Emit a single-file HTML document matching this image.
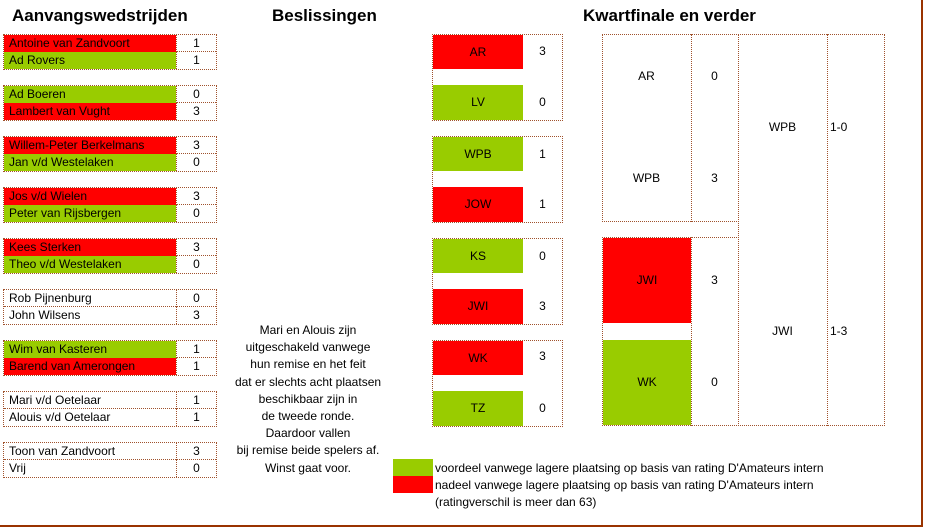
<!DOCTYPE html>
<html><head><meta charset="utf-8"><style>
body{margin:0;width:925px;height:529px;background:#fff;font-family:"Liberation Sans",Arial,sans-serif;font-size:12px;color:#000;position:relative;overflow:hidden}
div{position:absolute;box-sizing:border-box}
.b{border:1px dotted #a0522d}
.r{background:#ff0000}.g{background:#99cc00}
.n{height:17px;line-height:17px;padding-left:5px;white-space:nowrap}
.s{height:17px;line-height:17px;text-align:center;border-left:1px dotted #a0522d}
.t{border-bottom:1px dotted #a0522d}
.h{font-weight:bold;font-size:17px;top:6px;white-space:nowrap}
.c{text-align:center}
</style></head><body>
<div class="h" style="left:12px">Aanvangswedstrijden</div>
<div class="h" style="left:272px">Beslissingen</div>
<div class="h" style="left:583px">Kwartfinale en verder</div>

<div class="b" style="left:3px;top:34px;width:214px;height:36px"></div>
<div class="n r" style="left:4px;top:35px;width:172px">Antoine van Zandvoort</div><div class="s t" style="left:176px;top:35px;width:40px">1</div>
<div class="n g" style="left:4px;top:52px;width:172px">Ad Rovers</div><div class="s" style="left:176px;top:52px;width:40px">1</div>

<div class="b" style="left:3px;top:85px;width:214px;height:36px"></div>
<div class="n g" style="left:4px;top:86px;width:172px">Ad Boeren</div><div class="s t" style="left:176px;top:86px;width:40px">0</div>
<div class="n r" style="left:4px;top:103px;width:172px">Lambert van Vught</div><div class="s" style="left:176px;top:103px;width:40px">3</div>

<div class="b" style="left:3px;top:136px;width:214px;height:36px"></div>
<div class="n r" style="left:4px;top:137px;width:172px">Willem-Peter Berkelmans</div><div class="s t" style="left:176px;top:137px;width:40px">3</div>
<div class="n g" style="left:4px;top:154px;width:172px">Jan v/d Westelaken</div><div class="s" style="left:176px;top:154px;width:40px">0</div>

<div class="b" style="left:3px;top:187px;width:214px;height:36px"></div>
<div class="n r" style="left:4px;top:188px;width:172px">Jos v/d Wielen</div><div class="s t" style="left:176px;top:188px;width:40px">3</div>
<div class="n g" style="left:4px;top:205px;width:172px">Peter van Rijsbergen</div><div class="s" style="left:176px;top:205px;width:40px">0</div>

<div class="b" style="left:3px;top:238px;width:214px;height:36px"></div>
<div class="n r" style="left:4px;top:239px;width:172px">Kees Sterken</div><div class="s t" style="left:176px;top:239px;width:40px">3</div>
<div class="n g" style="left:4px;top:256px;width:172px">Theo v/d Westelaken</div><div class="s" style="left:176px;top:256px;width:40px">0</div>

<div class="b" style="left:3px;top:289px;width:214px;height:36px"></div>
<div class="n t" style="left:4px;top:290px;width:172px">Rob Pijnenburg</div><div class="s t" style="left:176px;top:290px;width:40px">0</div>
<div class="n" style="left:4px;top:307px;width:172px">John Wilsens</div><div class="s" style="left:176px;top:307px;width:40px">3</div>

<div class="b" style="left:3px;top:340px;width:214px;height:36px"></div>
<div class="n g" style="left:4px;top:341px;width:172px">Wim van Kasteren</div><div class="s t" style="left:176px;top:341px;width:40px">1</div>
<div class="n r" style="left:4px;top:358px;width:172px">Barend van Amerongen</div><div class="s" style="left:176px;top:358px;width:40px">1</div>

<div class="b" style="left:3px;top:391px;width:214px;height:36px"></div>
<div class="n t" style="left:4px;top:392px;width:172px">Mari v/d Oetelaar</div><div class="s t" style="left:176px;top:392px;width:40px">1</div>
<div class="n" style="left:4px;top:409px;width:172px">Alouis v/d Oetelaar</div><div class="s" style="left:176px;top:409px;width:40px">1</div>

<div class="b" style="left:3px;top:442px;width:214px;height:36px"></div>
<div class="n t" style="left:4px;top:443px;width:172px">Toon van Zandvoort</div><div class="s t" style="left:176px;top:443px;width:40px">3</div>
<div class="n" style="left:4px;top:460px;width:172px">Vrij</div><div class="s" style="left:176px;top:460px;width:40px">0</div>

<!-- Beslissingen -->
<div class="b" style="left:432px;top:34px;width:131px;height:87px"></div>
<div class="r c" style="left:433px;top:35px;width:90px;height:34px;line-height:34px">AR</div><div class="c" style="left:523px;top:35px;width:39px;line-height:32px">3</div>
<div class="g c" style="left:433px;top:85px;width:90px;height:35px;line-height:35px">LV</div><div class="c" style="left:523px;top:85px;width:39px;line-height:35px">0</div>

<div class="b" style="left:432px;top:136px;width:131px;height:87px"></div>
<div class="g c" style="left:433px;top:137px;width:90px;height:34px;line-height:34px">WPB</div><div class="c" style="left:523px;top:137px;width:39px;line-height:34px">1</div>
<div class="r c" style="left:433px;top:187px;width:90px;height:35px;line-height:35px">JOW</div><div class="c" style="left:523px;top:187px;width:39px;line-height:35px">1</div>

<div class="b" style="left:432px;top:238px;width:131px;height:87px"></div>
<div class="g c" style="left:433px;top:239px;width:90px;height:34px;line-height:34px">KS</div><div class="c" style="left:523px;top:239px;width:39px;line-height:34px">0</div>
<div class="r c" style="left:433px;top:289px;width:90px;height:35px;line-height:35px">JWI</div><div class="c" style="left:523px;top:289px;width:39px;line-height:35px">3</div>

<div class="b" style="left:432px;top:340px;width:131px;height:87px"></div>
<div class="r c" style="left:433px;top:341px;width:90px;height:34px;line-height:34px">WK</div><div class="c" style="left:523px;top:341px;width:39px;line-height:30px">3</div>
<div class="g c" style="left:433px;top:391px;width:90px;height:35px;line-height:35px">TZ</div><div class="c" style="left:523px;top:391px;width:39px;line-height:35px">0</div>

<!-- Kwartfinale -->
<div class="b" style="left:602px;top:34px;width:137px;height:188px"></div>
<div style="left:691px;top:34px;height:188px;border-left:1px dotted #a0522d"></div>
<div class="c" style="left:602px;top:69px;width:89px">AR</div><div class="c" style="left:691px;top:69px;width:47px">0</div>
<div class="c" style="left:602px;top:171px;width:89px">WPB</div><div class="c" style="left:691px;top:171px;width:47px">3</div>

<div class="b" style="left:602px;top:237px;width:137px;height:189px"></div>
<div style="left:691px;top:237px;height:189px;border-left:1px dotted #a0522d"></div>
<div class="r c" style="left:603px;top:238px;width:88px;height:85px;line-height:85px">JWI</div><div class="c" style="left:691px;top:238px;width:47px;line-height:85px">3</div>
<div class="g c" style="left:603px;top:340px;width:88px;height:85px;line-height:85px">WK</div><div class="c" style="left:691px;top:340px;width:47px;line-height:85px">0</div>

<div class="b" style="left:738px;top:34px;width:147px;height:392px"></div>
<div style="left:827px;top:34px;height:392px;border-left:1px dotted #a0522d"></div>
<div class="c" style="left:738px;top:120px;width:89px">WPB</div><div style="left:830px;top:120px">1-0</div>
<div class="c" style="left:738px;top:324px;width:89px">JWI</div><div style="left:830px;top:324px">1-3</div>

<!-- middle text -->
<div class="c" style="left:218px;top:322px;width:180px;line-height:17.2px">Mari en Alouis zijn<br>uitgeschakeld vanwege<br>hun remise en het feit<br>dat er slechts acht plaatsen<br>beschikbaar zijn in<br>de tweede ronde.<br>Daardoor vallen<br>bij remise beide spelers af.<br>Winst gaat voor.</div>

<!-- legend -->
<div class="g" style="left:393px;top:459px;width:40px;height:17px"></div>
<div class="r" style="left:393px;top:476px;width:40px;height:17px"></div>
<div style="left:435px;top:460px;line-height:17px;white-space:nowrap">voordeel vanwege lagere plaatsing op basis van rating D'Amateurs intern<br>nadeel vanwege lagere plaatsing op basis van rating D'Amateurs intern<br>(ratingverschil is meer dan 63)</div>

<!-- page frame -->
<div style="left:921px;top:0;width:2px;height:527px;background:#993300"></div>
<div style="left:0;top:525px;width:923px;height:2px;background:#993300"></div>
</body></html>
